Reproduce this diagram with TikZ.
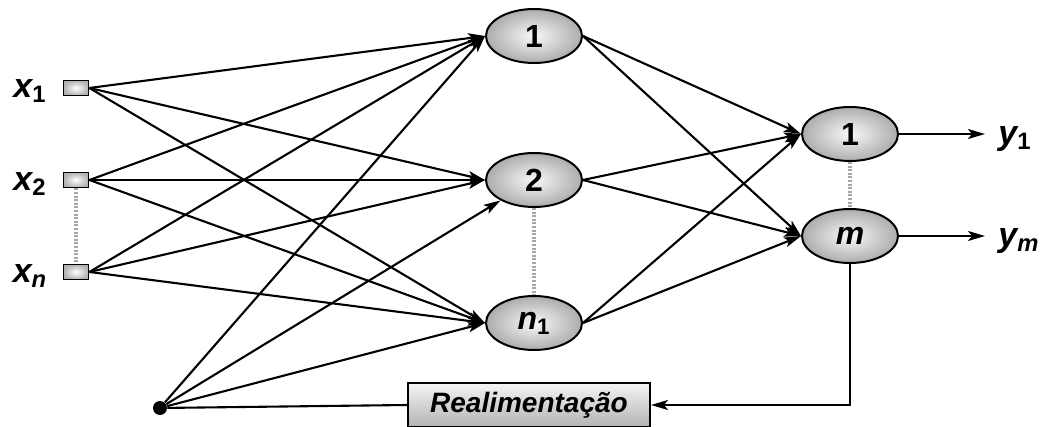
\documentclass[tikz,border=0pt]{standalone}
\usepackage{fontspec}
\setmainfont{Liberation Sans}
\usetikzlibrary{arrows.meta,shapes.geometric}
\begin{document}
\begin{tikzpicture}[x=0.5pt,y=-0.5pt,
  neuron/.style={ellipse,draw=black,line width=1pt,inner sep=0pt,
    minimum width=48pt,minimum height=27pt,
    inner color=gray!5,outer color=gray!65,
    font=\fontsize{16}{16}\selectfont\bfseries},
  inp/.style={rectangle,draw=black,line width=0.9pt,inner sep=0pt,
    minimum width=12.5pt,minimum height=7.5pt,inner color=white,outer color=gray!60},
  lab/.style={font=\fontsize{17}{17}\selectfont\bfseries\itshape,inner sep=0pt},
  fbbox/.style={rectangle,draw=black,line width=1pt,inner sep=0pt,
    minimum width=121pt,minimum height=22pt,top color=gray!8,bottom color=gray!60,
    font=\fontsize{14}{14}\selectfont\bfseries\itshape},
  conn/.style={line width=1.05pt,-{Stealth[length=8.5pt,width=5pt,inset=2pt]}},
  plain/.style={line width=1.05pt},
  dots/.style={gray!70,line width=1.7pt,dash pattern=on 1pt off 0.8pt}]
\useasboundingbox (0,0) rectangle (1051,427);

% input units
\node[inp] (x1) at (76,88) {};
\node[inp] (x2) at (76,180) {};
\node[inp] (xn) at (76,272) {};
\node[lab] (lx1) at (30,91) {x\textsubscript{\upshape 1}};
\node[lab] (lx2) at (30,184) {x\textsubscript{\upshape 2}};
\node[lab] (lxn) at (30,276) {x\textsubscript{n}};

% hidden layer
\node[neuron] (h1) at (534,36) {1};
\node[neuron] (h2) at (534,180) {2};
\node[neuron] (hn) at (534,323) {\itshape n\textsubscript{\upshape 1}};

% output layer
\node[neuron] (o1) at (850,134) {1};
\node[neuron] (om) at (850,236) {\itshape m};

% feedback path
\node[circle,fill=black,inner sep=0pt,minimum size=7pt] (b) at (160,408) {};
\node[fbbox] (fb) at (529,405) {Realimentação};

% outputs
\coordinate (y1e) at (985,134);
\coordinate (yme) at (985,236);
\node[lab,anchor=west] (ly1) at (998,139) {y\textsubscript{\upshape 1}};
\node[lab,anchor=west] (lym) at (998,241) {y\textsubscript{m}};

% dotted continuation marks
\draw[dots] (x2.south) -- (xn.north);
\draw[dots] (h2.south) -- (hn.north);
\draw[dots] (o1.south) -- (om.north);

% input -> hidden
\foreach \s in {x1,x2,xn}
  \foreach \t in {h1,h2,hn}
    \draw[conn] (\s.east) -- (\t.west);

% feedback -> hidden
\draw[conn] (b) -- (h1.west);
\draw[conn] (b) -- (h2);
\draw[conn] (b) -- (hn.west);

% hidden -> output
\foreach \s in {h1,h2,hn}
  \foreach \t in {o1,om}
    \draw[conn] (\s.east) -- (\t.west);

% output signals
\draw[conn] (o1.east) -- (y1e);
\draw[conn] (om.east) -- (yme);

% feedback loop
\draw[conn] (om.south) |- (fb.east);
\draw[plain] (b) -- (fb.west);
\end{tikzpicture}
\end{document}
